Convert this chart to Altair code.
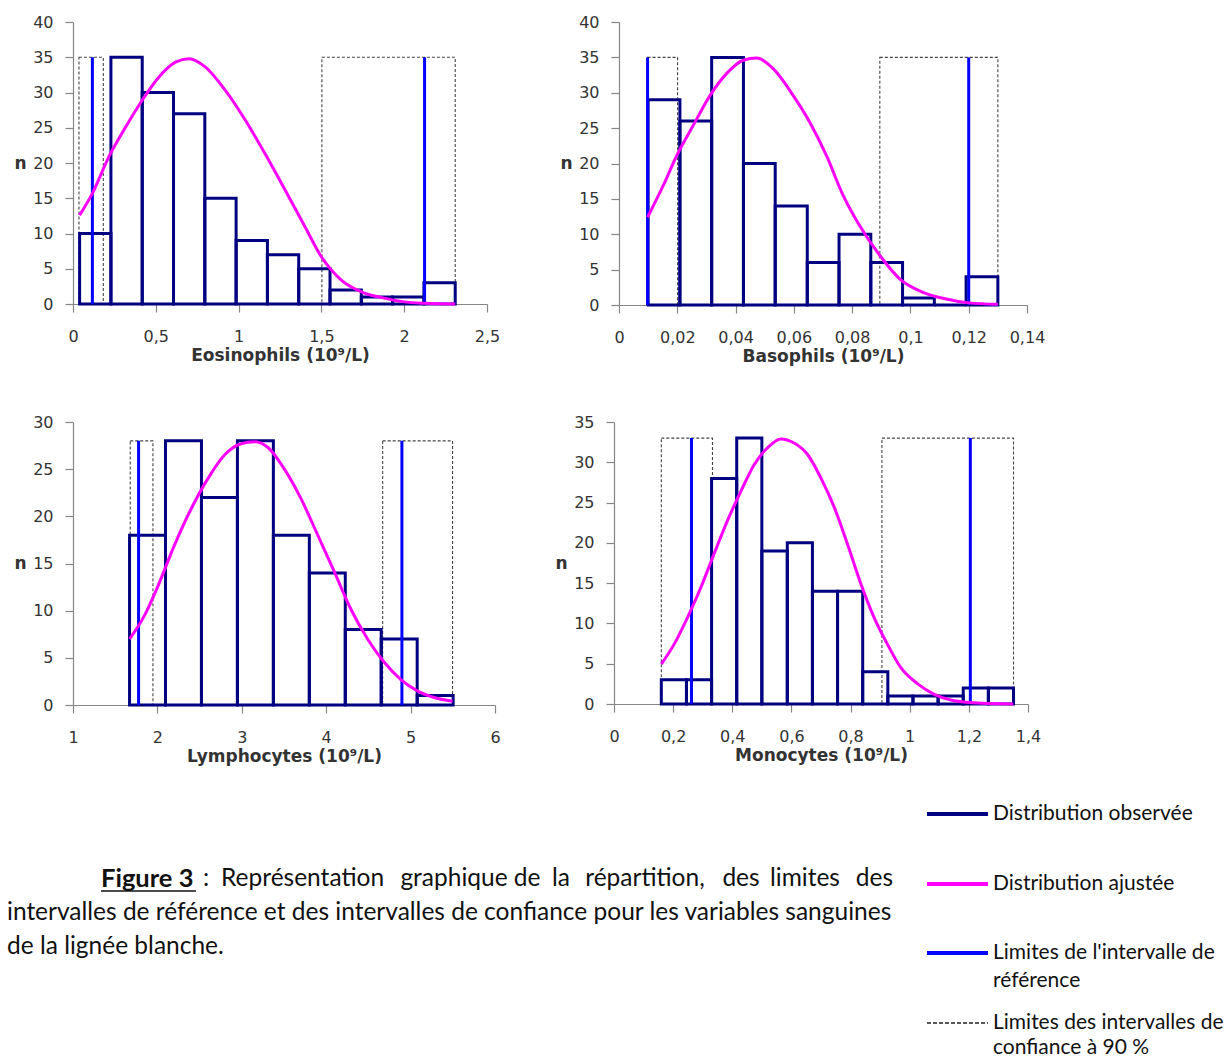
import altair as alt
import pandas as pd

# ---------------- data ----------------
eos_edges = [0.04, 0.229, 0.418, 0.607, 0.796, 0.985, 1.174, 1.363, 1.552, 1.741, 1.93, 2.119, 2.308]
eos_counts = [10, 35, 30, 27, 15, 9, 7, 5, 2, 1, 1, 3]
eos_fit_x = [0.04, 0.117, 0.217, 0.318, 0.418, 0.519, 0.619, 0.70, 0.80, 0.92, 1.04, 1.16, 1.28, 1.40,
             1.50, 1.62, 1.745, 1.865, 2.0, 2.127, 2.308]
eos_fit_y = [12.6, 15.7, 20.9, 25.1, 28.9, 32.2, 34.3, 34.8, 33.6, 30.3, 26.1, 21.3, 16.2, 11.0,
             6.7, 3.4, 1.7, 0.9, 0.3, 0.1, 0.0]
eos_ref = [0.117, 2.123]
eos_ci_lo = [0.036, 1.503]
eos_ci_hi = [0.183, 2.308]

baso_edges = [0.01, 0.0209, 0.0318, 0.0427, 0.0536, 0.0646, 0.0755, 0.0864, 0.0973, 0.1082, 0.1191, 0.13]
baso_counts = [29, 26, 35, 20, 14, 6, 10, 6, 1, 0, 4]
baso_fit_x = [0.0098, 0.0152, 0.0198, 0.0255, 0.0312, 0.0369, 0.0426, 0.0472, 0.0529, 0.0598, 0.0655,
              0.0712, 0.0769, 0.0826, 0.0895, 0.0963, 0.1043, 0.1123, 0.12, 0.13]
baso_fit_y = [12.4, 16.9, 21.1, 25.4, 29.6, 32.7, 34.6, 34.9, 33.4, 29.6, 25.8, 21.1, 15.5, 11.2,
              7.0, 3.7, 1.8, 0.85, 0.3, 0.1]
baso_ref = [0.0098, 0.12]
baso_ci_lo = [0.0098, 0.0895]
baso_ci_hi = [0.0201, 0.130]

lym_edges = [1.67, 2.096, 2.522, 2.948, 3.374, 3.80, 4.226, 4.652, 5.078, 5.504]
lym_counts = [18, 28, 22, 28, 18, 14, 8, 7, 1]
lym_fit_x = [1.671, 1.848, 2.006, 2.20, 2.40, 2.598, 2.795, 2.99, 3.15, 3.31, 3.505, 3.70, 3.90,
             4.097, 4.29, 4.49, 4.69, 4.885, 5.08, 5.28, 5.497]
lym_fit_y = [7.0, 9.5, 12.6, 16.9, 20.8, 24.0, 26.5, 27.7, 27.9, 27.3, 25.0, 21.9, 18.0, 14.1,
             10.2, 7.0, 4.5, 2.7, 1.5, 0.8, 0.4]
lym_ref = [1.777, 4.897]
lym_ci_lo = [1.678, 4.669]
lym_ci_hi = [1.947, 5.497]

mono_edges = [0.16, 0.245, 0.330, 0.415, 0.500, 0.586, 0.671, 0.756, 0.841, 0.926, 1.011, 1.096,
              1.181, 1.266, 1.351]
mono_counts = [3, 3, 28, 33, 19, 20, 14, 14, 4, 1, 1, 1, 2, 2]
mono_fit_x = [0.16, 0.203, 0.248, 0.293, 0.338, 0.383, 0.429, 0.474, 0.519, 0.564, 0.609, 0.654,
              0.699, 0.745, 0.790, 0.835, 0.880, 0.925, 0.970, 1.027, 1.083, 1.139, 1.201, 1.35]
mono_fit_y = [4.95, 7.4, 10.7, 14.4, 18.6, 22.7, 26.4, 29.7, 31.8, 32.9, 32.4, 31.0, 28.1, 24.4,
              19.8, 14.9, 10.7, 7.4, 4.5, 2.5, 1.2, 0.5, 0.2, 0.0]
mono_ref = [0.262, 1.205]
mono_ci_lo = [0.160, 0.906]
mono_ci_hi = [0.333, 1.351]

# ---------------- styles ----------------
NAVY = "#000080"
MAGENTA = "#FF00FF"
BLUE = "#0000FF"
AXGRAY = "#868686"
TXT = "#333333"
LABEL_EXPR = "replace(format(datum.value, '~g'), '.', ',')"


def panel(edges, counts, fit_x, fit_y, ref, ci_lo, ci_hi, top, xdom, xticks, ymax, title, w, h):
    bars = pd.DataFrame({"x0": edges[:-1], "x1": edges[1:], "n": counts, "b": 0})
    fit = pd.DataFrame({"x": fit_x, "n": fit_y})
    refs = pd.DataFrame({"x": ref, "b": 0, "t": top})
    cis = pd.DataFrame({"x0": ci_lo, "x1": ci_hi, "b": 0, "t": top})

    xs = alt.Scale(domain=xdom, nice=False, zero=False)
    ys = alt.Scale(domain=[0, ymax], nice=False)
    xax = alt.Axis(values=xticks, labelExpr=LABEL_EXPR, title=title, labelFlush=False,
                   labelOverlap=False, tickSize=8, labelPadding=16, titlePadding=3)
    yax = alt.Axis(values=list(range(0, ymax + 1, 5)), title="n", titleAngle=0, titleX=-53,
                   titleY=h / 2, titleAlign="center", titleBaseline="middle", tickSize=8,
                   labelPadding=12, labelOverlap=False, labelFlush=False)

    ci_layer = alt.Chart(cis).mark_rect(filled=False, stroke="#444444", strokeWidth=1.1,
                                        strokeDash=[3, 2]).encode(
        x=alt.X("x0:Q", scale=xs, axis=xax), x2="x1:Q",
        y=alt.Y("b:Q", scale=ys, axis=yax), y2="t:Q")
    bar_layer = alt.Chart(bars).mark_rect(filled=False, stroke=NAVY, strokeWidth=3).encode(
        x=alt.X("x0:Q", scale=xs, axis=xax), x2="x1:Q",
        y=alt.Y("b:Q", scale=ys, axis=yax), y2="n:Q")
    ref_layer = alt.Chart(refs).mark_rule(color=BLUE, strokeWidth=3).encode(
        x=alt.X("x:Q", scale=xs, axis=xax),
        y=alt.Y("b:Q", scale=ys, axis=yax), y2="t:Q")
    fit_layer = alt.Chart(fit).mark_line(color=MAGENTA, strokeWidth=3, interpolate="monotone").encode(
        x=alt.X("x:Q", scale=xs, axis=xax),
        y=alt.Y("n:Q", scale=ys, axis=yax))
    return alt.layer(ci_layer, bar_layer, ref_layer, fit_layer).properties(width=w, height=h)


eos = panel(eos_edges, eos_counts, eos_fit_x, eos_fit_y, eos_ref, eos_ci_lo, eos_ci_hi, 35,
            [0, 2.5], [0, 0.5, 1, 1.5, 2, 2.5], 40, "Eosinophils (10⁹/L)", 414, 282)
baso = panel(baso_edges, baso_counts, baso_fit_x, baso_fit_y, baso_ref, baso_ci_lo, baso_ci_hi, 35,
             [0, 0.14], [0, 0.02, 0.04, 0.06, 0.08, 0.1, 0.12, 0.14], 40, "Basophils (10⁹/L)", 408, 283)
lym = panel(lym_edges, lym_counts, lym_fit_x, lym_fit_y, lym_ref, lym_ci_lo, lym_ci_hi, 28,
            [1, 6], [1, 2, 3, 4, 5, 6], 30, "Lymphocytes (10⁹/L)", 422, 283)
mono = panel(mono_edges, mono_counts, mono_fit_x, mono_fit_y, mono_ref, mono_ci_lo, mono_ci_hi, 33,
             [0, 1.4], [0, 0.2, 0.4, 0.6, 0.8, 1, 1.2, 1.4], 35, "Monocytes (10⁹/L)", 414, 282)

# ---------------- caption & legend (annotation row) ----------------
one = pd.DataFrame({"k": [0]})
OX, OY = 73, 822  # design origin of this row in page pixels
CAP = 24.5


def txt(s, x, y, size=21, weight="normal", align="left", font="Lato"):
    return alt.Chart(one).mark_text(text=s, align=align, baseline="middle", font=font,
                                    fontSize=size, fontWeight=weight, color="#111111").encode(
        x=alt.value(x - OX), y=alt.value(y - OY))


def hline(x1, x2, y, color, width, dash=None):
    kw = dict(color=color, strokeWidth=width)
    if dash:
        kw["strokeDash"] = dash
    return alt.Chart(one).mark_rule(**kw).encode(
        x=alt.value(x1 - OX), x2=alt.value(x2 - OX), y=alt.value(y - OY))


legend_items = ["Distribution observée", "Distribution ajustée",
                "Limites de l'intervalle de", "référence",
                "Limites des intervalles de", "confiance à 90 %"]
# justified first caption line: each word anchored like the reference
caption_l1 = ["Représentation", "graphique", "de", "la", "répartition,", "des", "limites", "des"]
caption_l1_x = [221, 454, 527, 561, 645, 741, 805, 893]
caption_l1_align = ["left", "center", "center", "center", "center", "center", "center", "right"]
caption_l2 = "intervalles de référence et des intervalles de confiance pour les variables sanguines"
caption_l3 = "de la lignée blanche."

layers = [
    hline(927, 988, 812, NAVY, 4),
    hline(927, 988, 882, MAGENTA, 4),
    hline(927, 988, 951, BLUE, 4),
    hline(927, 988, 1021, "#222222", 1.5, [4, 2]),
    txt(legend_items[0], 993, 812),
    txt(legend_items[1], 993, 882),
    txt(legend_items[2], 993, 951),
    txt(legend_items[3], 993, 979),
    txt(legend_items[4], 993, 1021),
    txt(legend_items[5], 993, 1046),
    txt("Figure 3", 101, 877, size=25.5, weight="bold"),
    hline(101, 196, 889, "#111111", 1.5),
    txt(":", 203, 877, size=CAP),
]
for w_, x_, a_ in zip(caption_l1, caption_l1_x, caption_l1_align):
    layers.append(txt(w_, x_, 877, size=CAP, align=a_))
layers.append(txt(caption_l2, 7, 911, size=CAP))
layers.append(txt(caption_l3, 7, 945, size=CAP))

notes = alt.layer(*layers).properties(width=954, height=230)

row1 = alt.hconcat(eos, baso, spacing=132, bounds="flush")
row2 = alt.hconcat(lym, mono, spacing=119, bounds="flush")
lower = alt.vconcat(row2, notes, spacing=39, bounds="full")

chart = alt.vconcat(row1, lower, spacing=50, bounds="full").properties(
    padding={"left": 7, "top": 14, "right": 2, "bottom": 0}
).configure_view(stroke=None).configure_axis(
    domainColor=AXGRAY, tickColor=AXGRAY, domainWidth=1.2, tickWidth=1.2,
    labelColor=TXT, labelFont="DejaVu Sans", labelFontSize=16,
    titleColor=TXT, titleFont="DejaVu Sans", titleFontSize=17, titleFontWeight="bold",
    grid=False
)

chart.save("out.html", embed_options={"renderer": "svg", "actions": False})
